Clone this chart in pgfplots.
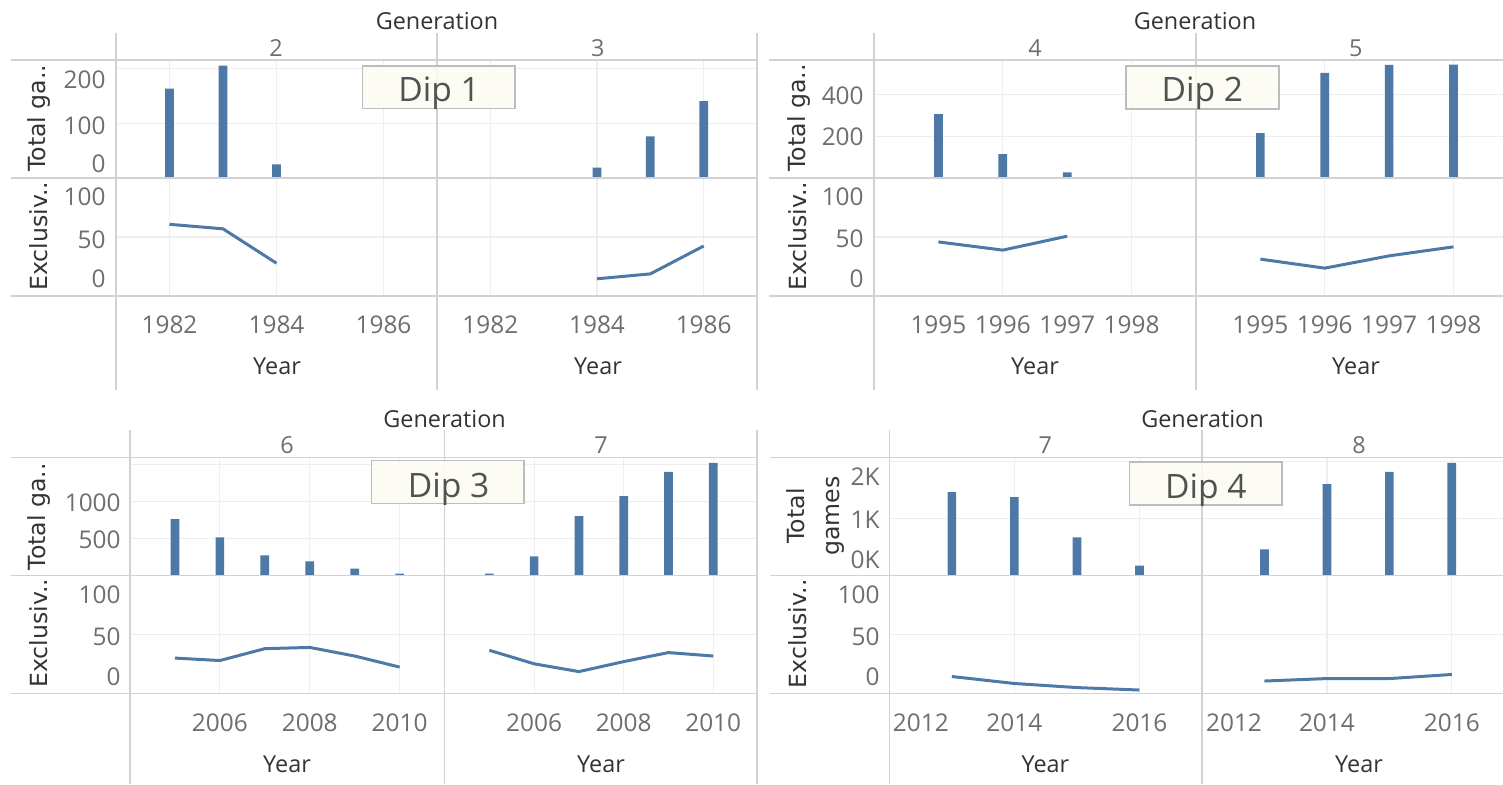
\documentclass[border=0pt]{standalone}
\usepackage{fontspec}
\setmainfont{Open Sans}
\newfontfamily\dejavu{DejaVu Sans}
\usepackage{pgfplots}
\pgfplotsset{compat=1.18}

\definecolor{tblue}{HTML}{4E79A7}
\definecolor{framec}{HTML}{D2D2D2}
\definecolor{gridc}{HTML}{EEEEEE}
\definecolor{tickc}{HTML}{6E6E6E}
\definecolor{titlec}{HTML}{333333}
\definecolor{dipfill}{HTML}{FCFCF2}
\definecolor{dipdraw}{HTML}{BDBDBD}

\newcommand\tickfont{\fontsize{12.2}{14}\selectfont}
\newcommand\headfont{\fontsize{11.7}{14}\selectfont}
\newcommand\rowfont{\dejavu\fontsize{11.8}{17.5}\selectfont}
\newcommand\dipfont{\fontsize{16.8}{20}\selectfont}

\pgfplotsset{
  pane/.style={scale only axis, anchor=south west,
    axis line style={draw=none}, major tick length=0pt,
    tick style={draw=none},
    xmajorgrids, ymajorgrids,
    major grid style={gridc, line width=0.6pt},
    xticklabels={}, yticklabels={},
    xticklabel style={anchor=center, yshift=-14.5pt, font=\tickfont, color=tickc, inner sep=0pt},
    height=59pt},
  barpane/.style={pane, ymin=0},
  linepane/.style={pane, ymin=-22, ymax=122, ytick={50}},
  bar/.style={ybar, bar width=4.35pt, fill=tblue, draw=none},
  ln/.style={tblue, line width=1.5pt, line join=round},
}

\begin{document}
\begin{tikzpicture}[x=0.5pt, y=-0.5pt]
\useasboundingbox (0,0) rectangle (1503,784);

% ---------------- Dip 1 : generations 2 and 3
\begin{axis}[barpane, at={(58pt,-89pt)}, width=160.5pt, xmin=1981, xmax=1987, ymax=215,
  xtick={1982,1984,1986}, ytick={100,200}]
\addplot[bar] coordinates {(1982,163) (1983,205) (1984,25)};
\end{axis}
\begin{axis}[barpane, at={(218.5pt,-89pt)}, width=160pt, xmin=1981, xmax=1987, ymax=215,
  xtick={1982,1984,1986}, ytick={100,200}]
\addplot[bar] coordinates {(1984,19) (1985,76) (1986,140)};
\end{axis}
\begin{axis}[linepane, at={(58pt,-148pt)}, width=160.5pt, xmin=1981, xmax=1987,
  xtick={1982,1984,1986}, xticklabels={1982,1984,1986}]
\addplot[ln] coordinates {(1982,65.5) (1983,60) (1984,18)};
\end{axis}
\begin{axis}[linepane, at={(218.5pt,-148pt)}, width=160pt, xmin=1981, xmax=1987,
  xtick={1982,1984,1986}, xticklabels={1982,1984,1986}]
\addplot[ln] coordinates {(1984,-1) (1985,5) (1986,39)};
\end{axis}

% ---------------- Dip 2 : generations 4 and 5
\begin{axis}[barpane, at={(437pt,-89pt)}, width=161pt, xmin=1994, xmax=1999, ymax=564,
  xtick={1996,1998}, ytick={200,400}]
\addplot[bar] coordinates {(1995,305) (1996,114) (1997,27)};
\end{axis}
\begin{axis}[barpane, at={(598pt,-89pt)}, width=153.5pt, xmin=1994, xmax=1998.77, ymax=564,
  xtick={1996,1998}, ytick={200,400}]
\addplot[bar] coordinates {(1995,214) (1996,502) (1997,541) (1998,542)};
\end{axis}
\begin{axis}[linepane, at={(437pt,-148pt)}, width=161pt, xmin=1994, xmax=1999,
  xtick={1995,1996,1997,1998}, xticklabels={1995,1996,1997,1998}, xmajorgrids=false,
  extra x ticks={1996,1998}, extra x tick labels={}, extra x tick style={grid=major}]
\addplot[ln] coordinates {(1995,44) (1996,34) (1997,51)};
\end{axis}
\begin{axis}[linepane, at={(598pt,-148pt)}, width=153.5pt, xmin=1994, xmax=1998.77,
  xtick={1995,1996,1997,1998}, xticklabels={1995,1996,1997,1998}, xmajorgrids=false,
  extra x ticks={1996,1998}, extra x tick labels={}, extra x tick style={grid=major}]
\addplot[ln] coordinates {(1995,23) (1996,12) (1997,27) (1998,38)};
\end{axis}

% ---------------- Dip 3 : generations 6 and 7
\begin{axis}[barpane, at={(65pt,-287.75pt)}, width=157.3pt, xmin=2004, xmax=2011, ymax=1600,
  xtick={2006,2008,2010}, ytick={500,1000,1500}]
\addplot[bar] coordinates {(2005,764) (2006,518) (2007,273) (2008,191) (2009,95) (2010,27)};
\end{axis}
\begin{axis}[barpane, at={(222.3pt,-287.75pt)}, width=156.7pt, xmin=2004, xmax=2011, ymax=1600,
  xtick={2006,2008,2010}, ytick={500,1000,1500}]
\addplot[bar] coordinates {(2005,27) (2006,259) (2007,805) (2008,1078) (2009,1405) (2010,1528)};
\end{axis}
\begin{axis}[linepane, at={(65pt,-346.65pt)}, width=157.3pt, xmin=2004, xmax=2011,
  xtick={2006,2008,2010}, xticklabels={2006,2008,2010}]
\addplot[ln] coordinates {(2005,21) (2006,18) (2007,32.5) (2008,34) (2009,23.5) (2010,10)};
\end{axis}
\begin{axis}[linepane, at={(222.3pt,-346.65pt)}, width=156.7pt, xmin=2004, xmax=2011,
  xtick={2006,2008,2010}, xticklabels={2006,2008,2010}]
\addplot[ln] coordinates {(2005,30.5) (2006,14) (2007,4.5) (2008,16.7) (2009,27.7) (2010,23.5)};
\end{axis}

% ---------------- Dip 4 : generations 7 and 8
\begin{axis}[barpane, at={(444.65pt,-287.75pt)}, width=156.35pt, xmin=2012, xmax=2017, ymax=2071,
  xtick={2014,2016}, ytick={1000,2000}]
\addplot[bar] coordinates {(2013,1465) (2014,1376) (2015,670) (2016,175)};
\end{axis}
\begin{axis}[barpane, at={(601pt,-287.75pt)}, width=150.5pt, xmin=2012, xmax=2016.82, ymax=2071,
  xtick={2014,2016}, ytick={1000,2000}]
\addplot[bar] coordinates {(2013,458) (2014,1606) (2015,1818) (2016,1977)};
\end{axis}
\begin{axis}[linepane, at={(444.65pt,-346.65pt)}, width=156.35pt, xmin=2012, xmax=2017,
  xtick={2014,2016}, xticklabels={2014,2016},
  extra x ticks={2012}, extra x tick labels={2012},
  extra x tick style={xticklabel style={xshift=15.75pt}}]
\addplot[ln] coordinates {(2013,-1.5) (2014,-10) (2015,-15) (2016,-18)};
\end{axis}
\begin{axis}[linepane, at={(601pt,-346.65pt)}, width=150.5pt, xmin=2012, xmax=2016.82,
  xtick={2014,2016}, xticklabels={2014,2016},
  extra x ticks={2012}, extra x tick labels={2012},
  extra x tick style={xticklabel style={xshift=16pt}}]
\addplot[ln] coordinates {(2013,-7) (2014,-4) (2015,-4) (2016,1)};
\end{axis}

% ---------------- frame lines
\begin{scope}[framec, line width=0.7pt]
  \foreach \x in {116,437,757,874,1196} \draw (\x,33) -- (\x,390);
  \foreach \x in {130,444.6,757,889.3,1202} \draw (\x,430) -- (\x,784);
  \foreach \y in {60,178,296} {\draw (10.7,\y) -- (757,\y); \draw (769,\y) -- (1503,\y);}
  \foreach \y in {457.7,575.7,693.3} {\draw (10.7,\y) -- (757,\y); \draw (770,\y) -- (1503,\y);}
\end{scope}

% ---------------- headers
\begin{scope}[every node/.style={text=titlec, font=\headfont, inner sep=0pt}]
  \node at (437,21) {Generation};
  \node at (1195,21) {Generation};
  \node at (444.6,419) {Generation};
  \node at (1202.5,419) {Generation};
  \foreach \x in {277,598,1035,1356} \node at (\x,366) {Year};
  \foreach \x in {287,601,1045.4,1359} \node at (\x,764) {Year};
\end{scope}
\begin{scope}[every node/.style={text=tickc, font=\headfont, inner sep=0pt}]
  \node at (276,48) {2};   \node at (597.7,48) {3};
  \node at (1035,48) {4};  \node at (1355.7,48) {5};
  \node at (287,445) {6};  \node at (601,445) {7};
  \node at (1045.4,445) {7}; \node at (1359,445) {8};
\end{scope}

% ---------------- row titles
\begin{scope}[every node/.style={text=titlec, font=\rowfont, rotate=90, inner sep=0pt}]
  \node at (38.8,118.3) {Total ga..};
  \node at (38.8,236) {Exclusiv..};
  \node at (798.6,118) {Total ga..};
  \node at (798,236) {Exclusiv..};
  \node at (38.8,516.7) {Total ga..};
  \node at (38.8,633.3) {Exclusiv..};
  \node[align=center] at (815.8,516) {Total\\games};
  \node at (797.6,633.8) {Exclusiv..};
\end{scope}

% ---------------- y tick labels
\begin{scope}[every node/.style={text=tickc, font=\tickfont, anchor=east, inner sep=0pt}]
  \node at (106,80) {200};  \node at (106,126) {100}; \node at (106,163.3) {0};
  \node at (106,196.5) {100}; \node at (106,239.5) {50}; \node at (106,279) {0};
  \node at (864,96) {400};  \node at (864,136.7) {200};
  \node at (864,197) {100}; \node at (864,238.7) {50}; \node at (864,279) {0};
  \node at (121,503) {1000}; \node at (121,540) {500};
  \node at (121,595) {100}; \node at (121,636.7) {50}; \node at (121,677) {0};
  \node at (880,476.5) {2K}; \node at (880,520) {1K}; \node at (880,560) {0K};
  \node at (880,595) {100}; \node at (880,636.7) {50}; \node at (880,677) {0};
\end{scope}

% ---------------- annotation boxes
\begin{scope}[every node/.style={text=black!68, font=\dipfont, inner sep=0pt, anchor=base}]
  \filldraw[fill=dipfill, fill opacity=0.88, draw=dipdraw, line width=0.75pt] (362.7,66) rectangle (515,108.3);
  \node at (439.2,101.7) {Dip 1};
  \filldraw[fill=dipfill, fill opacity=0.88, draw=dipdraw, line width=0.75pt] (1126,66) rectangle (1279,109);
  \node at (1202.3,101.7) {Dip 2};
  \filldraw[fill=dipfill, fill opacity=0.88, draw=dipdraw, line width=0.75pt] (371.7,460.7) rectangle (523.8,503.3);
  \node at (448.7,497.3) {Dip 3};
  \filldraw[fill=dipfill, fill opacity=0.88, draw=dipdraw, line width=0.75pt] (1129.5,462) rectangle (1282.2,505);
  \node at (1205.8,498.3) {Dip 4};
\end{scope}
\end{tikzpicture}
\end{document}
